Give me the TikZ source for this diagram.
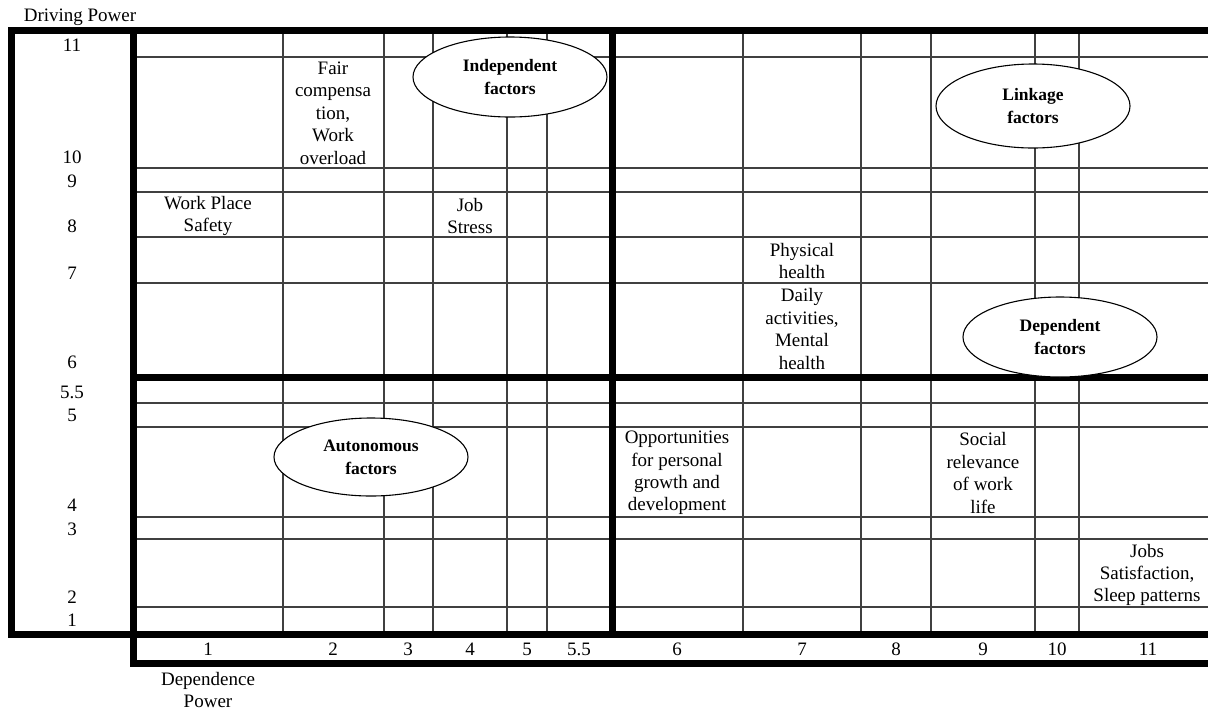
\documentclass[tikz,border=0pt]{standalone}
\usepackage{fontspec}
\setmainfont{Liberation Serif}
\usetikzlibrary{shapes.geometric}
\begin{document}
\begin{tikzpicture}[x=1pt,y=-1pt,
  gridline/.style={draw=black!75, line width=1.2pt},
  frame/.style={draw=black, line width=7pt, line cap=rect},
  celltext/.style={align=center, inner sep=0pt, font=\fontsize{19}{22.4}\selectfont},
  axislabel/.style={inner sep=0pt, font=\fontsize{19}{22}\selectfont},
  quadrant/.style={ellipse, draw=black, line width=1.1pt, fill=white, minimum width=194pt, minimum height=80pt, inner sep=0pt, align=center, font=\fontsize{17.5}{23}\selectfont\bfseries}]
\useasboundingbox (0,0) rectangle (1208,710);
% thin grid
\foreach \y in {57,168,192,237,283,403,427,517,539,607}
  \draw[gridline] (133,\y) -- (1208,\y);
\foreach \x in {283,384,433,507,547,743,861,931,1035,1079}
  \draw[gridline] (\x,30) -- (\x,634);
% thick frame
\draw[frame] (11,30) -- (1212,30);
\draw[frame] (11,634) -- (1212,634);
\draw[frame] (11,30) -- (11,634);
\draw[frame] (133,30) -- (133,663);
\draw[frame] (133,663) -- (1212,663);
\draw[frame] (612,30) -- (612,634);
\draw[frame] (133,377) -- (1212,377);
% axis titles
\node[axislabel, anchor=base] (drv) at (80,21.5) {Driving Power};
\node[celltext] (dep) at (208,690) {Dependence\\Power};
% row labels
\foreach \v/\y [count=\i] in {11/45,10/157,9/181,8/226,7/273,6/362,5.5/392,5/415,4/505,3/529,2/597,1/620}
  \node[axislabel] (r\i) at (72,\y) {\v};
% column labels
\foreach \v/\x [count=\i] in {1/208,2/333,3/408,4/470,5/527,5.5/579,6/677,7/802,8/896,9/983,10/1057,11/1148}
  \node[axislabel] (c\i) at (\x,649) {\v};
% cell texts
\node[celltext] (fair) at (333,113) {Fair\\compensa\\tion,\\Work\\overload};
\node[celltext] (wps) at (208,216) {Work Place\\Safety};
\node[celltext] (js) at (470,216) {Job\\Stress};
\node[celltext] (ph) at (802,261) {Physical\\health};
\node[celltext] (dam) at (802,329) {Daily\\activities,\\Mental\\health};
\node[celltext] (opp) at (677,473) {Opportunities\\for personal\\growth and\\development};
\node[celltext] (soc) at (983,473) {Social\\relevance\\of work\\life};
\node[celltext] (jss) at (1147,575) {Jobs\\Satisfaction,\\Sleep patterns};
% quadrant ellipses
\node[quadrant] (ind) at (510,77) {Independent\\factors};
\node[quadrant, minimum height=84pt] (lnk) at (1033,106) {Linkage\\factors};
\node[quadrant] (dpf) at (1060,337) {Dependent\\factors};
\node[quadrant, minimum height=78pt] (aut) at (371,457) {Autonomous\\factors};
\end{tikzpicture}
\end{document}
